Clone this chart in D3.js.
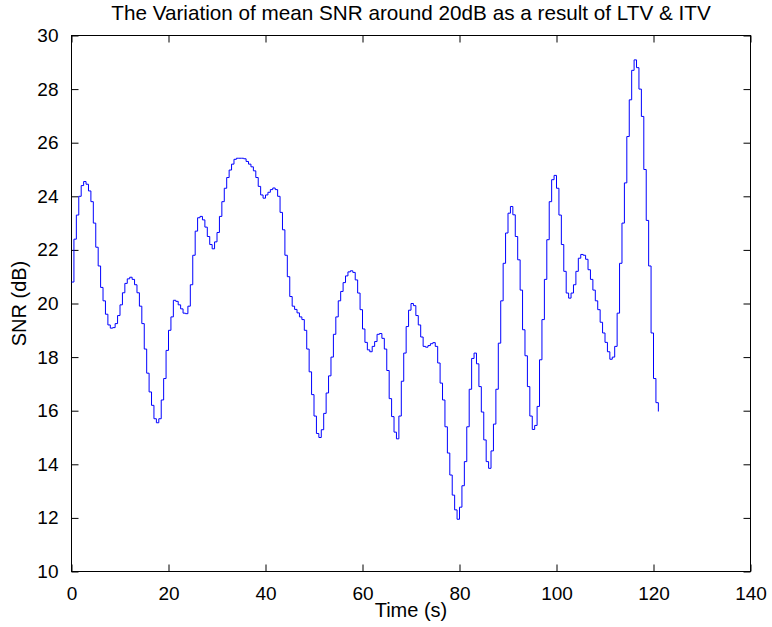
<!DOCTYPE html>
<html>
<head>
<meta charset="utf-8">
<script src="https://cdn.jsdelivr.net/npm/d3@7"></script>
<style>
  html, body { margin: 0; padding: 0; background: #fff; }
  svg { display: block; }
  text { font-family: "Liberation Sans", Arial, Helvetica, sans-serif; fill: #000; }
</style>
</head>
<body>
<svg id="chart" width="772" height="627"></svg>
<script>
// Mean SNR (dB) sampled every 0.5 s from 0 s to 121 s
const sampleStep = 0.5;
const snr = [
  20.8, 22.4, 23.3, 24.0, 24.4, 24.55, 24.45, 24.2, 23.8, 23.0,
  22.1, 21.4, 20.6, 20.1, 19.6, 19.2, 19.08, 19.1, 19.25, 19.55,
  19.95, 20.4, 20.75, 20.92, 20.98, 20.9, 20.7, 20.4, 19.9, 19.25,
  18.3, 17.4, 16.7, 16.2, 15.7, 15.55, 15.7, 16.4, 17.2, 18.25,
  19.0, 19.5, 20.12, 20.08, 19.95, 19.8, 19.64, 19.62, 19.9, 20.7,
  21.8, 22.7, 23.2, 23.25, 23.12, 22.85, 22.5, 22.2, 22.04, 22.3,
  22.65, 23.25, 23.8, 24.3, 24.7, 24.98, 25.2, 25.38, 25.42, 25.42,
  25.42, 25.4, 25.3, 25.2, 25.1, 24.95, 24.7, 24.37, 24.05, 23.93,
  24.05, 24.15, 24.25, 24.31, 24.25, 24.0, 23.4, 22.75, 21.8, 21.0,
  20.26, 19.9, 19.78, 19.65, 19.5, 19.4, 19.0, 18.3, 17.45, 16.6,
  15.8, 15.15, 15.0, 15.29, 15.9, 16.66, 17.3, 18.0, 18.85, 19.5,
  20.1, 20.45, 20.78, 21.03, 21.18, 21.22, 21.16, 20.88, 20.39, 19.77,
  19.05, 18.55, 18.27, 18.2, 18.4, 18.58, 18.85, 18.88, 18.7, 18.3,
  17.5, 16.45, 15.78, 15.2, 14.95, 15.8, 17.1, 18.15, 19.14, 19.75,
  20.0, 19.92, 19.55, 19.2, 18.75, 18.4, 18.37, 18.43, 18.5, 18.54,
  18.4, 17.78, 17.03, 16.4, 15.4, 14.42, 13.6, 12.85, 12.3, 11.95,
  12.4, 13.2, 14.1, 15.4, 16.8, 17.95, 18.15, 17.75, 16.9, 15.95,
  14.91, 14.1, 13.85, 14.5, 15.5, 16.8, 18.52, 20.1, 21.5, 22.63,
  23.37, 23.62, 23.31, 22.5, 21.63, 20.5, 19.02, 18.05, 16.9, 15.8,
  15.3, 15.45, 16.16, 17.9, 19.4, 20.9, 22.38, 23.8, 24.62, 24.78,
  24.3, 23.3, 22.2, 21.2, 20.39, 20.2, 20.39, 20.7, 21.2, 21.69,
  21.83, 21.8, 21.65, 21.26, 20.9, 20.5, 20.1, 19.77, 19.3, 18.9,
  18.55, 18.2, 17.92, 18.0, 18.4, 19.64, 21.5, 23.0, 24.5, 26.23,
  27.6, 28.7, 29.09, 28.8, 28.0, 26.98, 25.0, 23.1, 21.4, 18.9,
  17.2, 16.3, 15.97
];
const timeTicks = [0, 20, 40, 60, 80, 100, 120, 140];
const snrTicks = [10, 12, 14, 16, 18, 20, 22, 24, 26, 28, 30];

const titleText = "The Variation of mean SNR around 20dB as a result of LTV & ITV";
const xLabel = "Time (s)";
const yLabel = "SNR (dB)";

const svg = d3.select("#chart");
const box = { left: 71.5, right: 750.5, top: 35.5, bottom: 571.5 };
const tickLen = 7;
const tickFont = 19;

const x = d3.scaleLinear().domain([0, 140]).range([box.left, box.right]);
const y = d3.scaleLinear().domain([10, 30]).range([box.bottom, box.top]);

const points = snr.map((v, i) => ({ t: i * sampleStep, v }));

// Ticks point inward on all four sides
function styleAxis(g) {
  g.select(".domain").remove();
  g.selectAll(".tick line").attr("stroke", "#000").attr("stroke-width", 1);
  g.selectAll(".tick text")
    .attr("font-size", tickFont)
    .attr("font-family", "Liberation Sans, Arial, sans-serif")
    .attr("fill", "#000");
}

svg.append("g")
  .attr("transform", `translate(0,${box.bottom})`)
  .call(d3.axisBottom(x).tickValues(timeTicks).tickSizeInner(-tickLen).tickSizeOuter(0).tickPadding(8 + tickLen))
  .call(styleAxis);

svg.append("g")
  .attr("transform", `translate(0,${box.top})`)
  .call(d3.axisTop(x).tickValues(timeTicks).tickSizeInner(-tickLen).tickSizeOuter(0).tickFormat(""))
  .call(styleAxis);

svg.append("g")
  .attr("transform", `translate(${box.left},0)`)
  .call(d3.axisLeft(y).tickValues(snrTicks).tickSizeInner(-tickLen).tickSizeOuter(0).tickPadding(6 + tickLen))
  .call(styleAxis);

svg.append("g")
  .attr("transform", `translate(${box.right},0)`)
  .call(d3.axisRight(y).tickValues(snrTicks).tickSizeInner(-tickLen).tickSizeOuter(0).tickFormat(""))
  .call(styleAxis);

// Axes box
svg.append("rect")
  .attr("x", box.left).attr("y", box.top)
  .attr("width", box.right - box.left).attr("height", box.bottom - box.top)
  .attr("fill", "none").attr("stroke", "#000").attr("stroke-width", 1);

// SNR trace (held between samples)
const line = d3.line()
  .x(d => x(d.t))
  .y(d => y(d.v))
  .curve(d3.curveStepAfter);

svg.append("path")
  .datum(points)
  .attr("d", line)
  .attr("fill", "none")
  .attr("stroke", "#0000ff")
  .attr("stroke-width", 1);

// Title and axis labels
svg.append("text")
  .attr("x", (box.left + box.right) / 2).attr("y", 20)
  .attr("text-anchor", "middle")
  .attr("font-size", 20.7)
  .text(titleText);

svg.append("text")
  .attr("x", (box.left + box.right) / 2).attr("y", 617)
  .attr("text-anchor", "middle")
  .attr("font-size", 20)
  .text(xLabel);

svg.append("text")
  .attr("transform", `translate(26,${(box.top + box.bottom) / 2}) rotate(-90)`)
  .attr("text-anchor", "middle")
  .attr("font-size", 20)
  .text(yLabel);
</script>
</body>
</html>
